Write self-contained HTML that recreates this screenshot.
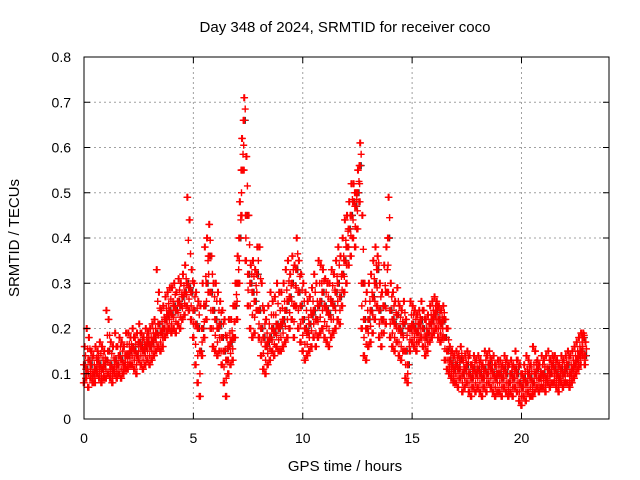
<!DOCTYPE html>
<html><head><meta charset="utf-8"><style>
body{margin:0;background:#fff}
svg{display:block;font-family:"Liberation Sans",sans-serif;font-size:14px}
.big{font-size:15px}
</style></head><body>
<svg id="chart" width="640" height="480" xmlns="http://www.w3.org/2000/svg">
<rect width="640" height="480" fill="#fff"/>
<text class="big" x="345" y="32" text-anchor="middle">Day 348 of 2024, SRMTID for receiver coco</text>
<text class="big" x="345" y="471" text-anchor="middle">GPS time / hours</text>
<text class="big" x="19" y="238" text-anchor="middle" transform="rotate(-90 19 238)">SRMTID / TECUs</text>
<g id="grid"></g>
<g id="marks"></g>
<g id="axes"></g>
</svg>
<script>
const xTicks=[0,5,10,15,20];
const yTicks=[0,0.1,0.2,0.3,0.4,0.5,0.6,0.7,0.8];
const yTickLabels=["0","0.1","0.2","0.3","0.4","0.5","0.6","0.7","0.8"];
const tStart=0, tStep=0.1;
const midVals=[.12,.11,.13,.12,.10,.11,.13,.12,.11,.12,.13,.15,.12,.11,.13,.12,.14,.13,.12,.14,.14,.15,.16,.15,.14,.17,.16,.15,.16,.17,.16,.17,.18,.19,.21,.19,.20,.22,.23,.24,.23,.25,.24,.26,.25,.27,.28,.30,.29,.28,.24,.21,.20,.15,.20,.25,.30,.36,.28,.24,.22,.20,.21,.18,.15,.13,.16,.17,.18,.25,.30,.40,.55,.66,.45,.32,.30,.28,.26,.32,.24,.20,.18,.16,.17,.18,.20,.19,.21,.20,.21,.22,.24,.26,.27,.30,.25,.33,.28,.25,.22,.20,.19,.21,.23,.24,.22,.25,.26,.28,.25,.24,.23,.26,.25,.28,.30,.27,.32,.35,.38,.42,.45,.48,.47,.50,.56,.30,.22,.20,.22,.24,.27,.30,.33,.24,.22,.25,.28,.40,.24,.22,.21,.23,.20,.19,.21,.15,.12,.20,.21,.20,.19,.21,.22,.20,.18,.19,.21,.22,.23,.24,.22,.21,.22,.18,.15,.13,.12,.11,.12,.11,.13,.10,.11,.12,.10,.09,.11,.10,.11,.10,.09,.11,.10,.12,.11,.10,.09,.10,.10,.09,.11,.10,.08,.10,.09,.11,.10,.08,.07,.09,.08,.10,.09,.08,.10,.11,.09,.10,.10,.09,.11,.10,.12,.11,.10,.09,.11,.10,.11,.12,.10,.11,.12,.13,.14,.15,.18,.14];
const hiVals=[.16,.20,.18,.15,.14,.16,.15,.17,.16,.15,.24,.22,.17,.16,.19,.16,.18,.17,.16,.19,.19,.18,.20,.18,.19,.21,.19,.18,.20,.19,.20,.21,.22,.33,.28,.24,.25,.27,.28,.29,.29,.30,.28,.31,.30,.32,.34,.49,.44,.33,.30,.28,.26,.25,.30,.38,.40,.43,.36,.30,.30,.28,.26,.24,.22,.18,.22,.22,.25,.30,.36,.48,.62,.71,.58,.45,.34,.35,.33,.38,.38,.30,.24,.22,.25,.28,.26,.27,.30,.28,.28,.30,.33,.35,.32,.36,.34,.40,.35,.32,.30,.28,.26,.27,.29,.32,.30,.35,.34,.33,.31,.30,.30,.33,.32,.35,.38,.36,.40,.44,.45,.48,.52,.52,.50,.55,.61,.45,.30,.28,.30,.32,.35,.38,.36,.30,.28,.34,.38,.49,.30,.28,.26,.29,.25,.24,.26,.22,.20,.26,.25,.24,.23,.24,.26,.24,.22,.23,.25,.26,.27,.26,.25,.24,.25,.22,.20,.16,.15,.14,.15,.14,.16,.13,.14,.15,.14,.12,.14,.13,.14,.13,.12,.15,.14,.15,.13,.14,.12,.13,.13,.12,.14,.13,.12,.13,.12,.15,.13,.12,.10,.12,.14,.13,.12,.16,.15,.13,.12,.14,.13,.14,.15,.13,.14,.14,.13,.12,.14,.13,.14,.15,.14,.15,.16,.17,.18,.19,.19,.17];
const loVals=[.08,.09,.07,.09,.08,.08,.10,.09,.08,.09,.09,.10,.09,.08,.10,.09,.10,.09,.10,.11,.11,.12,.12,.11,.10,.13,.12,.11,.12,.13,.12,.13,.14,.15,.16,.15,.16,.18,.19,.20,.19,.20,.19,.21,.20,.22,.23,.25,.24,.22,.18,.12,.08,.05,.14,.18,.22,.28,.20,.16,.15,.14,.15,.12,.08,.05,.10,.12,.13,.18,.22,.30,.45,.55,.35,.25,.20,.18,.19,.24,.18,.14,.11,.10,.12,.13,.15,.14,.16,.15,.15,.16,.17,.18,.20,.22,.18,.25,.20,.17,.15,.13,.14,.15,.16,.18,.16,.18,.19,.20,.18,.17,.16,.18,.19,.20,.22,.21,.25,.28,.30,.34,.36,.40,.38,.42,.48,.20,.14,.13,.16,.17,.19,.22,.25,.18,.16,.19,.21,.28,.18,.16,.15,.17,.14,.13,.15,.09,.08,.15,.17,.16,.15,.17,.18,.16,.14,.15,.17,.18,.19,.20,.18,.17,.18,.13,.11,.10,.09,.08,.08,.07,.09,.06,.07,.08,.06,.05,.07,.06,.07,.06,.05,.07,.06,.08,.07,.06,.05,.06,.06,.05,.07,.06,.05,.06,.05,.07,.06,.04,.03,.05,.04,.06,.05,.05,.06,.07,.06,.07,.07,.06,.08,.07,.08,.08,.07,.06,.08,.07,.08,.08,.07,.08,.09,.10,.11,.12,.14,.12];

const NS="http://www.w3.org/2000/svg";
const L=84,R=609,T=57,B=419,X0=0,X1=24,Y0=0,Y1=0.8;
const xs=v=>L+(v-X0)/(X1-X0)*(R-L);
const ys=v=>B-(v-Y0)/(Y1-Y0)*(B-T);
function mk(tag,attrs,parent){const e=document.createElementNS(NS,tag);for(const k in attrs)e.setAttribute(k,attrs[k]);parent.appendChild(e);return e;}
const grid=document.getElementById('grid'),axes=document.getElementById('axes'),marks=document.getElementById('marks');
xTicks.forEach(t=>{const x=xs(t);
 if(t>X0){const g=mk('line',{x1:x,y1:T,x2:x,y2:B,stroke:'#a0a0a0','stroke-dasharray':'2,3'},grid);
 
 }
 const lab=mk('text',{x:x,y:B+24,'text-anchor':'middle'},axes);lab.textContent=String(t);
 
 
 mk('line',{x1:x,y1:B,x2:x,y2:B-6,stroke:'#000'},axes);
 mk('line',{x1:x,y1:T,x2:x,y2:T+6,stroke:'#000'},axes);
});
yTicks.forEach((t,i)=>{const y=ys(t);
 if(t>Y0&&t<Y1){const g=mk('line',{x1:L,y1:y,x2:R,y2:y,stroke:'#a0a0a0','stroke-dasharray':'2,3'},grid);
 
 }
 const lab=mk('text',{x:L-13,y:y+5,'text-anchor':'end'},axes);lab.textContent=yTickLabels[i];
 
 
 mk('line',{x1:L,y1:y,x2:L+6,y2:y,stroke:'#000'},axes);
 mk('line',{x1:R,y1:y,x2:R-6,y2:y,stroke:'#000'},axes);
});
const frame=mk('rect',{x:L,y:T,width:R-L,height:B-T,fill:'none',stroke:'#000'},axes);


function cross(t,v,col){const x=xs(t),y=ys(v);
 const p=mk('path',{d:`M${x-3.5},${y}h7M${x},${y-3.5}v7`,stroke:col,'stroke-width':1.4},marks);
 
 }
// dark underlying series (mostly hidden)
midVals.forEach((v,i)=>cross(tStart+i*tStep+0.07,v,'#333'));
const offs=[[-0.03,0,0.02],[0.04,0.07,0.01],[0,0.03,-0.02]];
[loVals,hiVals,midVals].forEach((arr,k)=>arr.forEach((v,i)=>{
  offs[k].forEach((o,j)=>cross(tStart+i*tStep+o, j===0?v:(j===1?(v+midVals[i])/2:v),'#ff0000'));
}));
</script>
</body></html>
